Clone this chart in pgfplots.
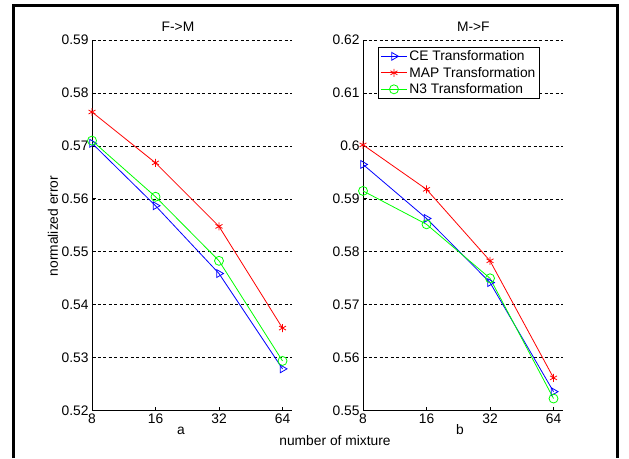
\documentclass[border=0pt]{standalone}
\usepackage{fontspec}
\setmainfont{Liberation Sans}
\usepackage{pgfplots}
\pgfplotsset{compat=1.18}

\newcommand{\mfont}{\fontsize{13.8}{16}\selectfont}

\tikzset{
  ceplot/.style={color=blue, line width=0.8pt, mark=triangle, mark size=4.5pt, mark options={rotate=-90, solid}},
  mapplot/.style={color=red, line width=0.8pt, mark=asterisk, mark size=4pt},
  ntplot/.style={color=green, line width=0.8pt, mark=o, mark size=4.5pt},
}

\begin{document}
\begin{tikzpicture}
\useasboundingbox (0,0) rectangle (629pt,458pt);
\fill[white] (0,0) rectangle (629pt,458pt);
% outer frame
\draw[line width=2.7pt] (13.7pt,0pt) -- (13.7pt,452.7pt) -- (617.7pt,452.7pt) -- (617.7pt,0pt);

% left panel: F->M
\begin{axis}[at={(92pt,47.3pt)}, anchor=south west,
    scale only axis, width=199.5pt, height=370.7pt,
    xmode=log, log basis x=2, xmin=8, xmax=70.6,
    xtick={8,16,32,64}, xticklabels={8,16,32,64},
    axis x line*=bottom, axis y line*=left,
    axis line style={line width=0.9pt},
    tick align=inside, major tick length=4pt,
    tick style={black, line width=0.8pt},
    ymajorgrids, grid style={black, line width=0.7pt, dash pattern=on 3pt off 2.5pt},
    tick label style={font=\mfont},
    yticklabel style={/pgf/number format/fixed, /pgf/number format/precision=2},
    /pgf/number format/assume math mode=true,
    ymin=0.52, ymax=0.59, ytick={0.52,0.53,0.54,0.55,0.56,0.57,0.58,0.59}]
\addplot[ceplot] coordinates {(8,0.5705) (16,0.5587) (32,0.5459) (64,0.5279)};
\addplot[mapplot] coordinates {(8,0.5764) (16,0.5668) (32,0.5548) (64,0.5356)};
\addplot[ntplot] coordinates {(8,0.5710) (16,0.5604) (32,0.5483) (64,0.5294)};
\end{axis}

% right panel: M->F
\begin{axis}[at={(363pt,47.3pt)}, anchor=south west,
    scale only axis, width=199.5pt, height=370.7pt,
    xmode=log, log basis x=2, xmin=8, xmax=70.6,
    xtick={8,16,32,64}, xticklabels={8,16,32,64},
    axis x line*=bottom, axis y line*=left,
    axis line style={line width=0.9pt},
    tick align=inside, major tick length=4pt,
    tick style={black, line width=0.8pt},
    ymajorgrids, grid style={black, line width=0.7pt, dash pattern=on 3pt off 2.5pt},
    tick label style={font=\mfont},
    yticklabel style={/pgf/number format/fixed, /pgf/number format/precision=2},
    /pgf/number format/assume math mode=true,
    ymin=0.55, ymax=0.62, ytick={0.55,0.56,0.57,0.58,0.59,0.6,0.61,0.62},
    legend image code/.code={\draw[mark repeat=2,mark phase=2,#1] plot coordinates {(0pt,0pt) (13pt,0pt) (26pt,0pt)};},
    legend cell align=left,
    legend style={at={(0.0735,0.982)}, anchor=north west, draw=black, fill=white,
      line width=0.8pt, font=\mfont, inner xsep=2.5pt, inner ysep=1.5pt,
      row sep=1pt, nodes={font=\mfont}}]
\addplot[ceplot] coordinates {(8,0.5965) (16,0.5863) (32,0.5742) (64,0.5536)};
\addlegendentry{CE Transformation}
\addplot[mapplot] coordinates {(8,0.6002) (16,0.5918) (32,0.5783) (64,0.5562)};
\addlegendentry{MAP Transformation\hspace{4pt}}
\addplot[ntplot] coordinates {(8,0.5915) (16,0.5852) (32,0.5750) (64,0.5523)};
\addlegendentry{N3 Transformation}
\end{axis}

% titles and labels
\node[font=\mfont] at (178pt,431.3pt) {F->M};
\node[font=\mfont] at (473.3pt,431.3pt) {M->F};
\node[font=\mfont, rotate=90] at (53pt,232pt) {normalized error};
\node[font=\mfont] at (181pt,27pt) {a};
\node[font=\mfont] at (460pt,28pt) {b};
\node[font=\mfont] at (335pt,17pt) {number of mixture};
\end{tikzpicture}
\end{document}
